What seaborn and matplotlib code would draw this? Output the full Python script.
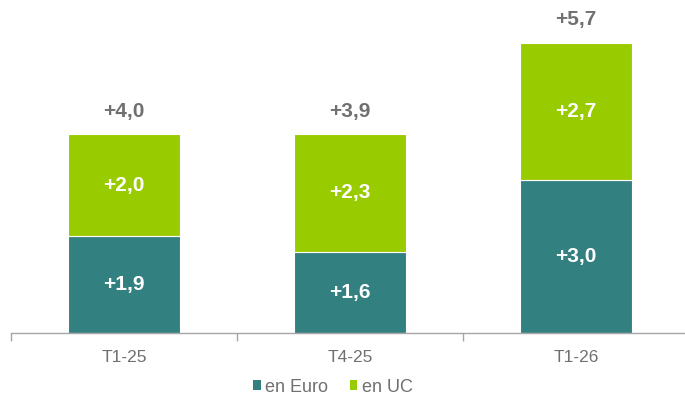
import matplotlib
matplotlib.use("Agg")
import matplotlib.pyplot as plt
import seaborn as sns
import pandas as pd
from matplotlib.patches import Patch

categories = ["T1-25", "T4-25", "T1-26"]
euro_values = [1.9, 1.6, 3.0]
uc_values = [2.0, 2.3, 2.7]
total_values = [4.0, 3.9, 5.7]
series_names = ["en Euro", "en UC"]

teal = "#338080"
green = "#99CC00"
gray = "#707070"

sns.set_theme(style="white")
plt.rcParams["font.family"] = ["Liberation Sans", "DejaVu Sans"]

df = pd.DataFrame({"cat": categories, "euro": euro_values, "uc": uc_values})

fig = plt.figure(figsize=(6.85, 3.95), dpi=100)
ax = fig.add_axes([11 / 685, 62 / 395, 678 / 685, 331 / 395])

sns.barplot(data=df, x="cat", y="euro", color=teal, width=0.495,
            edgecolor="white", linewidth=0.8, saturation=1, ax=ax)
sns.barplot(data=df, x="cat", y="uc", bottom=df["euro"], color=green, width=0.495,
            edgecolor="white", linewidth=0.8, saturation=1, ax=ax)

fmt = lambda v: "+" + f"{v:.1f}".replace(".", ",")

for i, (e, u, t) in enumerate(zip(euro_values, uc_values, total_values)):
    ax.text(i, e / 2, fmt(e), ha="center", va="center", color="white",
            fontsize=15, fontweight="bold")
    ax.text(i, e + u / 2, fmt(u), ha="center", va="center", color="white",
            fontsize=15, fontweight="bold")
    ax.annotate(fmt(t), (i, e + u), xytext=(0, 16.5), textcoords="offset points",
                ha="center", va="center", color=gray, fontsize=15, fontweight="bold")

ax.set_xlim(-0.5, 2.5)
ax.set_ylim(0, 6.5)
ax.set_xlabel("")
ax.set_ylabel("")
ax.set_yticks([])
for side in ["top", "right", "left"]:
    ax.spines[side].set_visible(False)
ax.spines["bottom"].set_color("#A6A6A6")
ax.spines["bottom"].set_linewidth(1.0)

ax.set_xticks([0, 1, 2])
ax.set_xticklabels(categories, color=gray, fontsize=12.5)
ax.tick_params(axis="x", which="major", length=0, pad=12)
ax.set_xticks([-0.5, 0.5, 1.5, 2.5], minor=True)
ax.tick_params(axis="x", which="minor", length=6, width=1.0, color="#A6A6A6",
               bottom=True, direction="out")

handles = [Patch(facecolor=teal, edgecolor="none"), Patch(facecolor=green, edgecolor="none")]
leg = fig.legend(handles, series_names, loc="center", bbox_to_anchor=(333 / 685, 8 / 395),
                 ncol=2, frameon=False, fontsize=13, handlelength=0.4, handleheight=0.4,
                 handletextpad=0.25, columnspacing=1.2, labelcolor=gray)

fig.savefig("out.png", dpi=100)
